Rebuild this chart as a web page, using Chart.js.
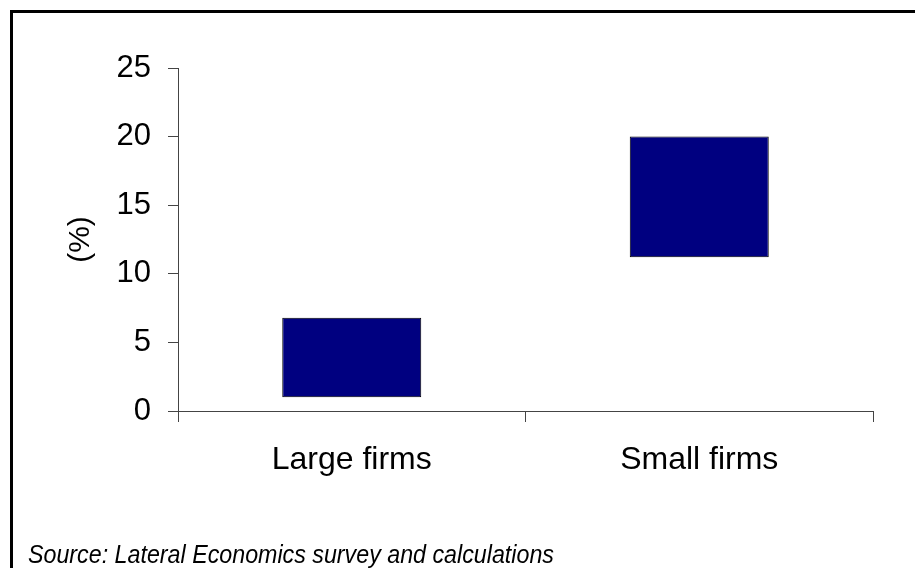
<!DOCTYPE html>
<html>
<head>
<meta charset="utf-8">
<script src="https://cdn.jsdelivr.net/npm/chart.js@4/dist/chart.umd.min.js"></script>
<style>
  html, body { margin: 0; padding: 0; background: #fff; }
  #wrap { position: relative; width: 915px; height: 568px; overflow: hidden; background: #fff; }
  #frame { position: absolute; left: 10px; top: 10px; width: 920px; height: 570px;
           border-left: 3px solid #000; border-top: 3px solid #000; box-sizing: border-box; }
  canvas { position: absolute; left: 0; top: 0; }
  #source { position: absolute; left: 28px; top: 540px; white-space: nowrap;
            font-family: "Liberation Sans Narrow", "Arial Narrow", "Liberation Sans", Arial, sans-serif;
            font-style: italic; font-size: 25px; line-height: normal; color: #000;
            transform: scaleX(0.93); transform-origin: 0 0; }
</style>
</head>
<body>
<div id="wrap">
  <div id="frame"></div>
  <canvas id="c" width="915" height="568"></canvas>
  <div id="source">Source: Lateral Economics survey and calculations</div>
</div>
<script>
const categories = ["Large firms", "Small firms"];
const rangeLow = [1, 11.2];
const rangeHigh = [6.8, 20];
const yTicks = [0, 5, 10, 15, 20, 25];
const yTitle = "(%)";

const FONT = "'Liberation Sans', Arial, sans-serif";

new Chart(document.getElementById('c'), {
  type: 'bar',
  data: {
    labels: categories,
    datasets: [{
      data: categories.map((_, i) => [rangeLow[i], rangeHigh[i]]),
      backgroundColor: '#000080',
      borderColor: '#000000',
      borderWidth: 1,
      borderSkipped: false,
      categoryPercentage: 1,
      barPercentage: 0.4
    }]
  },
  options: {
    responsive: false,
    animation: false,
    layout: { padding: { left: 0, top: 68, right: 42, bottom: 0 } },
    plugins: { legend: { display: false }, tooltip: { enabled: false } },
    scales: {
      x: {
        grid: { drawOnChartArea: false, drawTicks: true, tickLength: 11, color: '#444', offset: true },
        border: { display: true, color: '#444', width: 1 },
        ticks: { color: '#000', font: { family: FONT, size: 32 }, padding: 19, maxRotation: 0 },
        afterFit: s => { s.height = 157; }
      },
      y: {
        min: 0, max: 25,
        afterBuildTicks: s => { s.ticks = yTicks.map(v => ({ value: v })); },
        grid: { drawOnChartArea: false, drawTicks: true, tickLength: 10, color: '#444' },
        border: { display: true, color: '#444', width: 1 },
        ticks: { color: '#000', font: { family: FONT, size: 31 }, padding: 17 },
        title: { display: true, text: yTitle, color: '#000', font: { family: FONT, size: 30 }, padding: { top: 63, bottom: 0 } },
        afterFit: s => { s.width = 178; }
      }
    }
  }
});
</script>
</body>
</html>
